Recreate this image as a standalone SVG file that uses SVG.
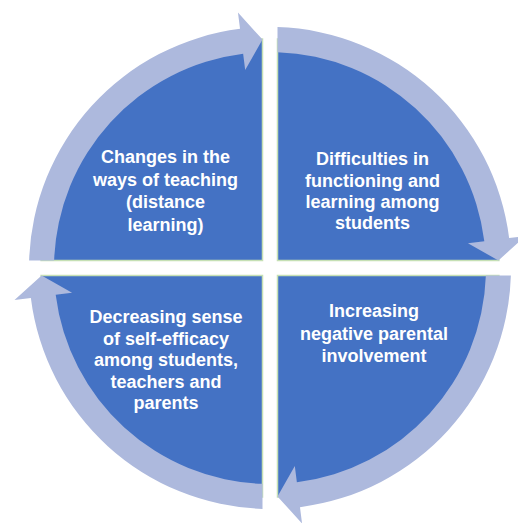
<svg xmlns="http://www.w3.org/2000/svg" width="518" height="523" viewBox="0 0 518 523">
<style>
.q{fill:#4472C4;stroke:#C5E0B4;stroke-width:1.5}
.ring{fill:#ADB9DD}
.t{font-family:"Liberation Sans",Arial,sans-serif;font-weight:bold;font-size:18px;fill:#FFFFFF;text-anchor:middle}
</style>
<defs>
<path id="qd" d="M -7.5 -7.5 V -228.88 A 229 229 0 0 0 -228.88 -7.5 Z"/>
<path id="arr" d="M -240.88 -7.5 A 241 241 0 0 1 -29.98 -239.13 L -32.04 -255.5 L -7.5 -228.38 L -24.82 -197.95 L -26.87 -214.32 A 216 216 0 0 0 -215.87 -7.5 Z"/>
</defs>
<rect width="518" height="523" fill="#FFFFFF"/>
<g id="node-changes">
<use href="#qd" class="q" transform="translate(270,268)"/>
<text class="t" x="165.5" y="163">Changes in the</text>
<text class="t" x="165.5" y="185.5">ways of teaching</text>
<text class="t" x="165.5" y="208">(distance</text>
<text class="t" x="165.5" y="230.5">learning)</text>
</g>
<g id="node-difficulties">
<use href="#qd" class="q" transform="translate(270,268) rotate(90)"/>
<text class="t" x="372.5" y="165">Difficulties in</text>
<text class="t" x="372.5" y="187">functioning and</text>
<text class="t" x="372.5" y="208">learning among</text>
<text class="t" x="372.5" y="229">students</text>
</g>
<g id="node-parental">
<use href="#qd" class="q" transform="translate(270,268) rotate(180)"/>
<text class="t" x="374" y="317">Increasing</text>
<text class="t" x="374" y="339.5">negative parental</text>
<text class="t" x="374" y="362">involvement</text>
</g>
<g id="node-selfefficacy">
<use href="#qd" class="q" transform="translate(270,268) rotate(270)"/>
<text class="t" x="166" y="323">Decreasing sense</text>
<text class="t" x="166" y="344.5">of self-efficacy</text>
<text class="t" x="166" y="366">among students,</text>
<text class="t" x="166" y="387.5">teachers and</text>
<text class="t" x="166" y="409">parents</text>
</g>
<g id="connectors">
<use href="#arr" class="ring" transform="translate(270,268)"/>
<use href="#arr" class="ring" transform="translate(270,268) rotate(90)"/>
<use href="#arr" class="ring" transform="translate(270,268) rotate(180)"/>
<use href="#arr" class="ring" transform="translate(270,268) rotate(270)"/>
</g>
</svg>
